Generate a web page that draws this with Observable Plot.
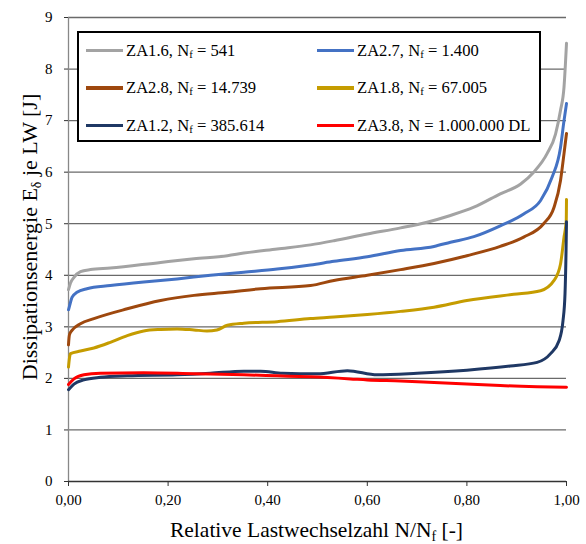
<!DOCTYPE html>
<html>
<head>
<meta charset="utf-8">
<script src="https://cdn.jsdelivr.net/npm/d3@7"></script>
<script src="https://cdn.jsdelivr.net/npm/@observablehq/plot@0.6"></script>
<style>
  html, body { margin: 0; padding: 0; background: #fff; }
  #wrap { position: relative; width: 586px; height: 544px; font-family: "Liberation Serif", Tinos, "DejaVu Serif", serif; }
  #wrap svg text { font-family: "Liberation Serif", Tinos, "DejaVu Serif", serif; }
  #legend { position: absolute; left: 77px; top: 31px; width: 460px; height: 107px; border: 2px solid #000; background: #fff; }
  .item { position: absolute; height: 22px; display: flex; align-items: center; font-size: 16.6px; color: #000; white-space: pre; }
  .sw { display: inline-block; width: 37px; height: 3.5px; margin-right: 3px; }
  .sb { font-size: 0.65em; position: relative; top: 0.3em; }
</style>
</head>
<body>
<div id="wrap"></div>
<script>
// ---- data ----
const xTicks = [0, 0.2, 0.4, 0.6, 0.8, 1.0];
const yTicks = [0, 1, 2, 3, 4, 5, 6, 7, 8, 9];

const seriesNames = ["ZA1.6", "ZA2.7", "ZA2.8", "ZA1.8", "ZA1.2", "ZA3.8"];
const seriesN = ["541", "1.400", "14.739", "67.005", "385.614", "1.000.000 DL"];

const x_ZA16 = [0, 0.004, 0.011, 0.024, 0.044, 0.084, 0.185, 0.252, 0.319, 0.352, 0.419, 0.486, 0.533, 0.6, 0.667, 0.72, 0.767, 0.814, 0.867, 0.908, 0.934, 0.961, 0.978, 0.988, 0.995, 1.0];
const y_ZA16 = [3.72, 3.85, 3.96, 4.07, 4.11, 4.14, 4.25, 4.32, 4.38, 4.43, 4.51, 4.59, 4.67, 4.80, 4.92, 5.03, 5.16, 5.32, 5.58, 5.77, 6.0, 6.36, 6.74, 7.2, 7.65, 8.5];

const x_ZA27 = [0, 0.002, 0.007, 0.017, 0.037, 0.084, 0.151, 0.218, 0.285, 0.352, 0.419, 0.486, 0.533, 0.6, 0.667, 0.734, 0.767, 0.814, 0.867, 0.914, 0.948, 0.971, 0.988, 0.995, 1.0];
const y_ZA27 = [3.33, 3.40, 3.57, 3.67, 3.74, 3.80, 3.87, 3.93, 4.0, 4.06, 4.12, 4.20, 4.27, 4.36, 4.48, 4.56, 4.64, 4.75, 4.96, 5.19, 5.45, 5.90, 6.48, 7.0, 7.33];

const x_ZA28 = [0, 0.001, 0.002, 0.007, 0.024, 0.051, 0.118, 0.185, 0.252, 0.319, 0.386, 0.486, 0.533, 0.6, 0.667, 0.734, 0.8, 0.867, 0.914, 0.954, 0.975, 0.988, 0.995, 1.0];
const y_ZA28 = [2.65, 2.78, 2.85, 2.93, 3.06, 3.16, 3.35, 3.51, 3.61, 3.67, 3.74, 3.80, 3.90, 4.0, 4.11, 4.23, 4.38, 4.56, 4.74, 5.0, 5.32, 5.84, 6.36, 6.75];

const x_ZA18 = [0, 0.002, 0.004, 0.024, 0.051, 0.084, 0.118, 0.151, 0.185, 0.218, 0.252, 0.278, 0.298, 0.319, 0.352, 0.419, 0.486, 0.533, 0.6, 0.667, 0.734, 0.8, 0.867, 0.894, 0.948, 0.975, 0.988, 0.995, 0.9995, 1.0];
const y_ZA18 = [2.22, 2.40, 2.48, 2.53, 2.59, 2.70, 2.83, 2.92, 2.95, 2.96, 2.94, 2.92, 2.94, 3.03, 3.07, 3.10, 3.16, 3.19, 3.24, 3.30, 3.38, 3.51, 3.60, 3.63, 3.70, 3.90, 4.22, 4.74, 5.06, 5.47];

const x_ZA12 = [0, 0.011, 0.031, 0.064, 0.118, 0.218, 0.285, 0.352, 0.386, 0.43, 0.5, 0.56, 0.62, 0.7, 0.8, 0.887, 0.941, 0.968, 0.985, 0.993, 0.997, 0.999, 1.0];
const y_ZA12 = [1.78, 1.89, 1.97, 2.02, 2.05, 2.07, 2.10, 2.14, 2.14, 2.10, 2.09, 2.15, 2.07, 2.10, 2.16, 2.24, 2.31, 2.48, 2.73, 3.12, 3.64, 4.42, 5.04];

const x_ZA38 = [0, 0.011, 0.031, 0.064, 0.151, 0.252, 0.352, 0.419, 0.486, 0.566, 0.6, 0.667, 0.734, 0.8, 0.867, 0.941, 1.0];
const y_ZA38 = [1.88, 1.99, 2.07, 2.10, 2.11, 2.09, 2.07, 2.05, 2.03, 1.99, 1.97, 1.95, 1.92, 1.89, 1.86, 1.84, 1.83];

// ---- styles ----
const seriesColors = ["#A3A3A3", "#4472C4", "#9E480E", "#C59C00", "#1F3864", "#FF0000"];
const FONT = "'Liberation Serif', Tinos, 'DejaVu Serif', serif";

const xs = [x_ZA16, x_ZA27, x_ZA28, x_ZA18, x_ZA12, x_ZA38];
const ys = [y_ZA16, y_ZA27, y_ZA28, y_ZA18, y_ZA12, y_ZA38];
const rows = [];
seriesNames.forEach((s, i) => xs[i].forEach((x, j) => rows.push({series: s, x, y: ys[i][j]})));

const fmtX = d => d.toFixed(2).replace(".", ",");

const chart = Plot.plot({
  width: 586,
  height: 544,
  marginLeft: 68,
  marginRight: 20,
  marginTop: 17,
  marginBottom: 63,
  style: {fontFamily: FONT, fontSize: "15px", color: "#000", background: "#fff", overflow: "visible"},
  x: {domain: [0, 1]},
  y: {domain: [0, 9]},
  color: {domain: seriesNames, range: seriesColors},
  marks: [
    Plot.ruleY(yTicks.filter(d => d > 0), {stroke: "#6a6a6a", strokeWidth: 1.3}),
    Plot.ruleX([0], {stroke: "#888", strokeWidth: 1.3}),
    Plot.ruleY([0], {stroke: "#333", strokeWidth: 1.3}),
    Plot.axisX({ticks: xTicks, tickFormat: fmtX, tickSize: 5, tickPadding: 8, label: null, stroke: "#333", fontFamily: FONT}),
    Plot.axisY({ticks: yTicks, tickFormat: d => String(d), tickSize: 4, tickPadding: 12, label: null, stroke: "#333", fontFamily: FONT}),
    Plot.line(rows, {x: "x", y: "y", z: "series", stroke: "series", strokeWidth: 3, curve: "monotone-x"})
  ]
});

const wrap = document.getElementById("wrap");
wrap.appendChild(chart);

// axis titles with subscripts
const svg = d3.select(chart);
const yt = svg.append("text")
  .attr("transform", "translate(36.5,237) rotate(-90)")
  .attr("text-anchor", "middle")
  .attr("font-size", 22)
  .attr("font-family", FONT)
  .attr("fill", "#000");
yt.append("tspan").text("Dissipationsenergie E");
yt.append("tspan").attr("font-size", 14).attr("dy", 4).text("δ");
yt.append("tspan").attr("dy", -4).text(" je LW [J]");

const xt = svg.append("text")
  .attr("x", 316.5).attr("y", 537)
  .attr("text-anchor", "middle")
  .attr("font-size", 21.5)
  .attr("font-family", FONT)
  .attr("fill", "#000");
xt.append("tspan").text("Relative Lastwechselzahl N/N");
xt.append("tspan").attr("font-size", 14).attr("dy", 4).text("f");
xt.append("tspan").attr("dy", -4).text(" [-]");

// legend
const legend = document.createElement("div");
legend.id = "legend";
wrap.appendChild(legend);
const colLeft = [7, 238];
const rowTop = [6.5, 44, 81.5];
seriesNames.forEach((s, i) => {
  const col = i % 2, row = Math.floor(i / 2);
  const it = document.createElement("div");
  it.className = "item";
  it.style.left = colLeft[col] + "px";
  it.style.top = rowTop[row] + "px";
  const sym = s === "ZA3.8" ? "N" : "N<span class=\"sb\">f</span>";
  it.innerHTML = `<span class="sw" style="background:${seriesColors[i]}"></span>${s}, ${sym} = ${seriesN[i]}`;
  legend.appendChild(it);
});
</script>
</body>
</html>
